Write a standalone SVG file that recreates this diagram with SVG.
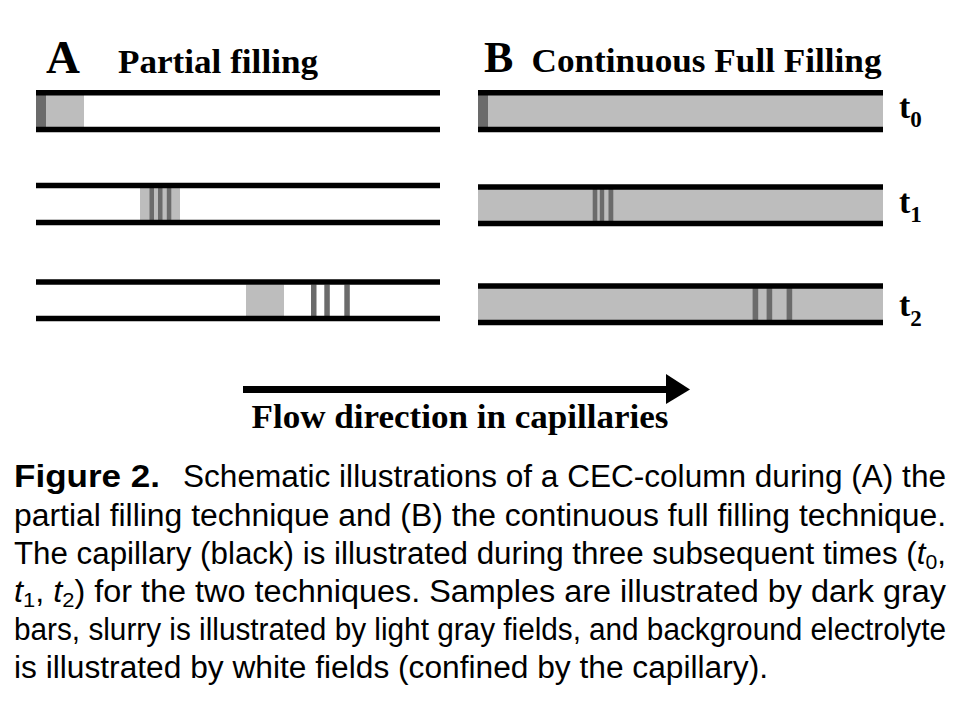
<svg xmlns="http://www.w3.org/2000/svg" width="960" height="720" viewBox="0 0 960 720">
<style>
.cap{stroke:#000;stroke-width:5.5;fill:none}
.slurry{fill:#bdbdbd}
.sample{fill:#6b6b6b}
.serif{font-family:"Liberation Serif","Times New Roman",serif;font-weight:bold;fill:#000}
.cap-text{font-family:"Liberation Sans",Arial,sans-serif;font-size:31px;fill:#000}
</style>
<rect width="960" height="720" fill="#fff"/>

<g id="title-A">
<text class="serif" x="46" y="72.7" font-size="47">A</text>
<text class="serif" x="118" y="72.7" font-size="33" textLength="200" lengthAdjust="spacingAndGlyphs">Partial filling</text>
</g>
<g id="title-B">
<text class="serif" x="484" y="71.7" font-size="44">B</text>
<text class="serif" x="531.5" y="71.7" font-size="33" textLength="350" lengthAdjust="spacingAndGlyphs">Continuous Full Filling</text>
</g>

<g id="A-t0">
<rect class="sample" x="36" y="95" width="10" height="32"/>
<rect class="slurry" x="46" y="95" width="38" height="32"/>
<line class="cap" x1="36" y1="92.8" x2="440" y2="92.8"/>
<line class="cap" x1="36" y1="129.5" x2="440" y2="129.5"/>
</g>
<g id="A-t1">
<rect class="slurry" x="140" y="188" width="40" height="32"/>
<rect class="sample" x="149.5" y="188" width="4.5" height="32"/>
<rect class="sample" x="158" y="188" width="4.5" height="32"/>
<rect class="sample" x="166.8" y="188" width="4.5" height="32"/>
<line class="cap" x1="36" y1="185.5" x2="440" y2="185.5"/>
<line class="cap" x1="36" y1="222.5" x2="440" y2="222.5"/>
</g>
<g id="A-t2">
<rect class="slurry" x="246" y="284.5" width="38" height="31.5"/>
<rect class="sample" x="311" y="284.5" width="5.5" height="31.5"/>
<rect class="sample" x="324.3" y="284.5" width="5.5" height="31.5"/>
<rect class="sample" x="344.3" y="284.5" width="5.5" height="31.5"/>
<line class="cap" x1="36" y1="282" x2="440" y2="282"/>
<line class="cap" x1="36" y1="318.5" x2="440" y2="318.5"/>
</g>

<g id="B-t0">
<rect class="slurry" x="478" y="95" width="405" height="32"/>
<rect class="sample" x="478" y="95" width="10" height="32"/>
<line class="cap" x1="478" y1="92.8" x2="883" y2="92.8"/>
<line class="cap" x1="478" y1="129.5" x2="883" y2="129.5"/>
</g>
<g id="B-t1">
<rect class="slurry" x="478" y="189" width="405" height="32"/>
<rect class="sample" x="592.7" y="189" width="4.6" height="32"/>
<rect class="sample" x="599.8" y="189" width="4.4" height="32"/>
<rect class="sample" x="608.5" y="189" width="4.8" height="32"/>
<line class="cap" x1="478" y1="187" x2="883" y2="187"/>
<line class="cap" x1="478" y1="223.5" x2="883" y2="223.5"/>
</g>
<g id="B-t2">
<rect class="slurry" x="478" y="288" width="405" height="32"/>
<rect class="sample" x="752.6" y="288" width="5.6" height="32"/>
<rect class="sample" x="766.6" y="288" width="5.6" height="32"/>
<rect class="sample" x="786.6" y="288" width="5.6" height="32"/>
<line class="cap" x1="478" y1="286" x2="883" y2="286"/>
<line class="cap" x1="478" y1="322.5" x2="883" y2="322.5"/>
</g>

<g id="time-labels">
<text class="serif" x="899" y="118.3" font-size="34">t<tspan font-size="23" dy="8.3">0</tspan></text>
<text class="serif" x="899" y="213.3" font-size="34">t<tspan font-size="23" dy="8.3">1</tspan></text>
<text class="serif" x="899" y="316" font-size="34">t<tspan font-size="23" dy="9.5">2</tspan></text>
</g>

<g id="connectors">
<line x1="243" y1="389.5" x2="668" y2="389.5" stroke="#000" stroke-width="7"/>
<polygon points="666,374 690,389.5 666,404" fill="#000"/>
</g>
<g id="flow-label">
<text class="serif" x="251.5" y="428.3" font-size="33" textLength="417" lengthAdjust="spacingAndGlyphs">Flow direction in capillaries</text>
</g>

<g id="caption">
<text class="cap-text" x="14" y="487" font-weight="bold" textLength="146" lengthAdjust="spacingAndGlyphs">Figure 2.</text>
<text class="cap-text" x="183" y="487" textLength="763" lengthAdjust="spacingAndGlyphs">Schematic illustrations of a CEC-column during (A) the</text>
<text class="cap-text" x="14" y="525.5" textLength="932" lengthAdjust="spacingAndGlyphs">partial filling technique and (B) the continuous full filling technique.</text>
<text class="cap-text" x="14" y="563.5" textLength="932" lengthAdjust="spacingAndGlyphs">The capillary (black) is illustrated during three subsequent times (<tspan font-style="italic">t</tspan><tspan font-size="21" dy="5">0</tspan><tspan dy="-5">,</tspan></text>
<text class="cap-text" x="14" y="602" textLength="932" lengthAdjust="spacingAndGlyphs"><tspan font-style="italic">t</tspan><tspan font-size="21" dy="5">1</tspan><tspan dy="-5">, </tspan><tspan font-style="italic">t</tspan><tspan font-size="21" dy="5">2</tspan><tspan dy="-5">) for the two techniques. Samples are illustrated by dark gray</tspan></text>
<text class="cap-text" x="14" y="640" font-size="29.7" textLength="567" lengthAdjust="spacingAndGlyphs">bars, slurry is illustrated by light gray fields,</text>
<text class="cap-text" x="589" y="640" font-size="29.7" textLength="357" lengthAdjust="spacingAndGlyphs">and background electrolyte</text>
<text class="cap-text" x="14" y="678" textLength="754" lengthAdjust="spacingAndGlyphs">is illustrated by white fields (confined by the capillary).</text>
</g>
</svg>
